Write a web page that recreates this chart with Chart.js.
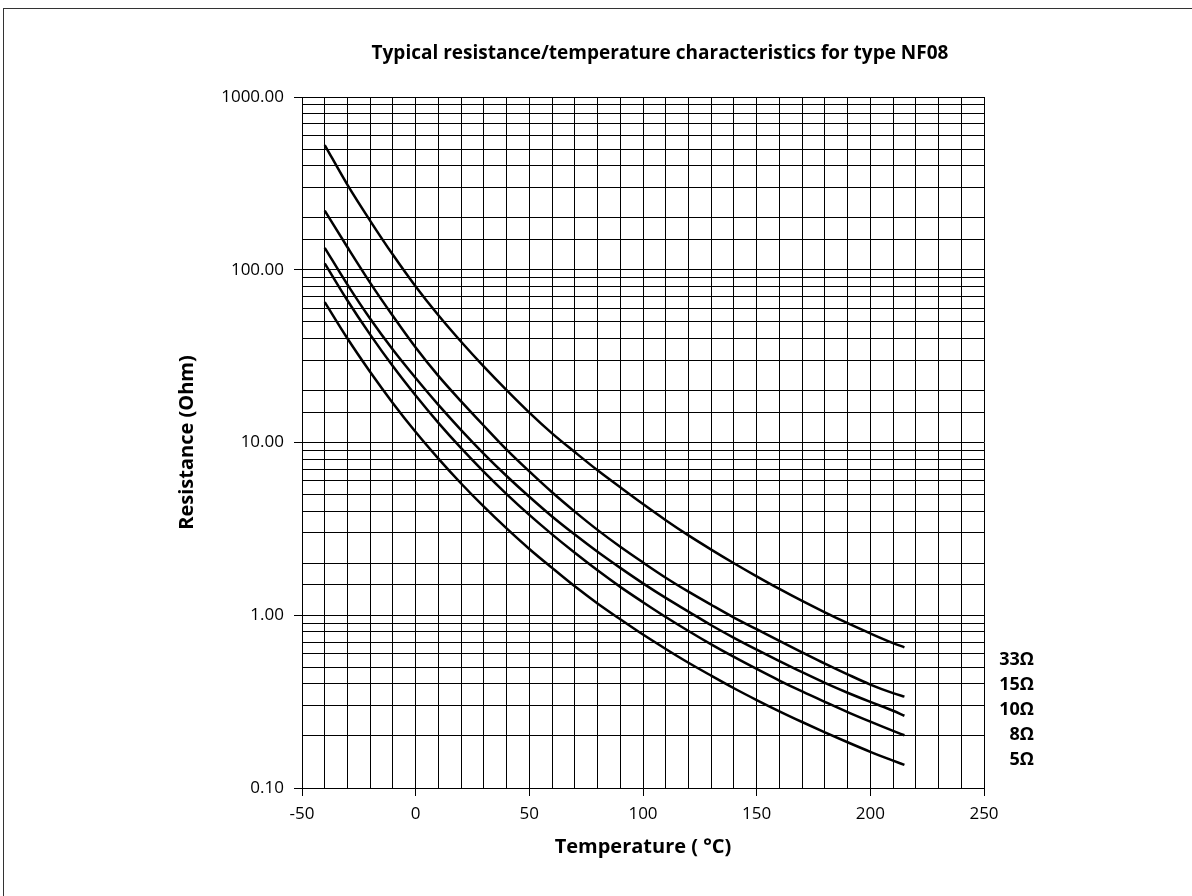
<!DOCTYPE html>
<html>
<head>
<meta charset="utf-8">
<title>NF08 resistance / temperature</title>
<script src="https://cdn.jsdelivr.net/npm/chart.js@4.4.0/dist/chart.umd.min.js"></script>
<style>
  html, body { margin: 0; padding: 0; background: #fff; }
  #wrap { width: 1192px; height: 896px; }
</style>
</head>
<body>
<div id="wrap"><canvas id="ntcChart" width="1192" height="896"></canvas></div>
<script>
const temps = [-40, -30, -20, -10, 0, 10, 20, 30, 40, 50, 60, 70, 80, 90, 100,
               110, 120, 130, 140, 150, 160, 170, 180, 190, 200, 210, 215];

// resistance (Ohm) per curve
const r33 = [527, 310, 192, 122, 80, 54.5, 38.3, 27.5, 20.1, 14.9, 11.3, 8.8, 6.9, 5.5, 4.4,
             3.55, 2.9, 2.4, 2.0, 1.68, 1.42, 1.21, 1.04, 0.90, 0.785, 0.69, 0.652];
const r15 = [220, 135, 84, 54, 35.5, 24.3, 17.3, 12.5, 9.1, 6.8, 5.15, 3.98, 3.12, 2.49, 2.02,
             1.65, 1.37, 1.15, 0.97, 0.83, 0.71, 0.61, 0.525, 0.455, 0.397, 0.354, 0.338];
const r10 = [134, 82, 52, 34.4, 23.6, 16.5, 11.8, 8.6, 6.4, 4.85, 3.73, 2.93, 2.33, 1.88, 1.53,
             1.26, 1.05, 0.875, 0.74, 0.632, 0.543, 0.468, 0.406, 0.356, 0.315, 0.28, 0.262];
const r8  = [109, 66.4, 42.1, 27.6, 18.7, 13.0, 9.27, 6.76, 5.03, 3.81, 2.94, 2.30, 1.82, 1.46, 1.19,
             0.977, 0.811, 0.679, 0.574, 0.489, 0.419, 0.362, 0.315, 0.275, 0.242, 0.214, 0.202];
const r5  = [65, 40, 25.6, 16.9, 11.5, 8.07, 5.79, 4.25, 3.18, 2.42, 1.88, 1.47, 1.17, 0.948, 0.773,
             0.638, 0.531, 0.447, 0.378, 0.323, 0.278, 0.241, 0.210, 0.184, 0.162, 0.144, 0.136];

const seriesLabels = ['33Ω', '15Ω', '10Ω', '8Ω', '5Ω'];
const chartTitle = 'Typical resistance/temperature characteristics for type NF08';
const xTitle = 'Temperature ( °C)';
const yTitle = 'Resistance (Ohm)';
const xMin = -50, xMax = 250, xStep = 10, xLabelEvery = 50;
const yMin = 0.1, yMax = 1000;

const FONT = "'Open Sans', 'DejaVu Sans', sans-serif";

function isDecade(v) {
  const l = Math.log10(v);
  return Math.abs(l - Math.round(l)) < 1e-6;
}

const seriesList = [r33, r15, r10, r8, r5];
const datasets = seriesList.map((vals, i) => ({
  label: seriesLabels[i],
  data: temps.map((t, j) => ({ x: t, y: vals[j] })),
  borderColor: '#000',
  borderWidth: 2.5,
  pointRadius: 0,
  fill: false,
  cubicInterpolationMode: 'monotone'
}));

// frame, titles and the curve names on the right
const textPlugin = {
  id: 'textPlugin',
  beforeDraw(chart) {
    const ctx = chart.ctx;
    ctx.save();
    ctx.fillStyle = '#fff';
    ctx.fillRect(0, 0, chart.width, chart.height);
    ctx.strokeStyle = '#333';
    ctx.lineWidth = 1;
    ctx.strokeRect(3.5, 8.5, chart.width + 10, chart.height + 10);
    ctx.restore();
  },
  afterDraw(chart) {
    const ctx = chart.ctx;
    const area = chart.chartArea;
    ctx.save();
    ctx.fillStyle = '#000';
    ctx.textAlign = 'center';
    ctx.textBaseline = 'middle';
    ctx.font = 'bold 19px ' + FONT;
    ctx.fillText(chartTitle, 660, 54);

    ctx.font = 'bold 20px ' + FONT;
    ctx.fillText(xTitle, (area.left + area.right) / 2, 847);

    ctx.save();
    ctx.translate(187, (area.top + area.bottom) / 2);
    ctx.rotate(-Math.PI / 2);
    ctx.fillText(yTitle, 0, 0);
    ctx.restore();

    ctx.font = 'bold 18px ' + FONT;
    ctx.textAlign = 'right';
    seriesLabels.forEach((lab, i) => {
      ctx.fillText(lab, 1034, 660 + i * 25);
    });
    ctx.restore();
  }
};

new Chart(document.getElementById('ntcChart'), {
  type: 'line',
  data: { datasets: datasets },
  options: {
    responsive: false,
    animation: false,
    layout: { padding: { left: 0, top: 97, right: 208, bottom: 0 } },
    plugins: {
      legend: { display: false },
      tooltip: { enabled: false }
    },
    scales: {
      x: {
        type: 'linear',
        min: xMin,
        max: xMax,
        afterFit: s => { s.height = 108; },
        ticks: {
          stepSize: xStep,
          autoSkip: false,
          maxRotation: 0,
          padding: 8,
          color: '#000',
          font: { family: FONT, size: 17 },
          callback: v => (v % xLabelEvery === 0 ? v : '')
        },
        grid: {
          color: '#000',
          lineWidth: 1,
          tickLength: 8,
          tickColor: c => (c.tick && c.tick.value % xLabelEvery === 0 ? '#000' : 'rgba(0,0,0,0)')
        },
        border: { color: '#000' }
      },
      y: {
        type: 'logarithmic',
        min: yMin,
        max: yMax,
        afterFit: s => { s.width = 302; },
        ticks: {
          autoSkip: false,
          padding: 10,
          color: '#000',
          font: { family: FONT, size: 17 },
          callback: v => (isDecade(v) ? Number(v).toFixed(2) : '')
        },
        grid: {
          color: '#000',
          lineWidth: 1,
          tickLength: 8,
          tickColor: c => (c.tick && isDecade(c.tick.value) ? '#000' : 'rgba(0,0,0,0)')
        },
        border: { color: '#000' }
      }
    }
  },
  plugins: [textPlugin]
});
</script>
</body>
</html>
